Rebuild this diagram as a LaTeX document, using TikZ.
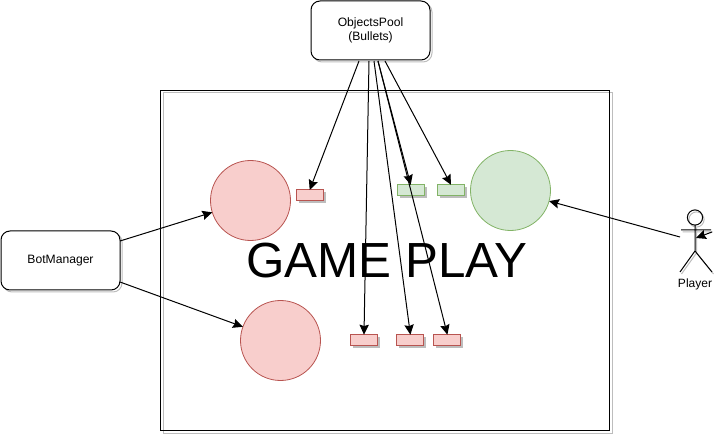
\documentclass[tikz,border=0pt]{standalone}
\usepackage{fontspec}
\setmainfont{Liberation Sans}
\usetikzlibrary{arrows.meta,positioning}
\definecolor{redfill}{HTML}{F8CECC}
\definecolor{redline}{HTML}{B85450}
\definecolor{greenfill}{HTML}{D5E8D4}
\definecolor{greenline}{HTML}{82B366}
\definecolor{shadowgray}{HTML}{BDBDBD}
\tikzset{
  x=0.75pt,y=-0.75pt,
  px/.style={inner sep=0pt,outer sep=0pt},
  box/.style={px,draw=black,line width=0.75pt,rounded corners=6.75pt,fill=white,align=center,
    font=\fontsize{9.1}{10.5}\selectfont,minimum width=89.25pt,minimum height=44.25pt},
  boxshadow/.style={px,draw=shadowgray,line width=0.75pt,rounded corners=6.75pt,minimum width=89.25pt,minimum height=44.25pt},
  bullet/.style={px,line width=0.75pt,minimum width=20.25pt,minimum height=8.25pt},
  redbullet/.style={bullet,draw=redline,fill=redfill},
  greenbullet/.style={bullet,draw=greenline,fill=greenfill},
  bulletshadow/.style={bullet,fill=shadowgray},
  blob/.style={px,circle,line width=0.6pt,minimum size=60pt},
  conn/.style={draw=black,line width=0.75pt,-{Stealth[length=7.5pt,width=7pt,inset=1pt]}},
  actorline/.style={draw=black,line width=0.75pt},
  actorshadow/.style={draw=shadowgray,line width=0.75pt},
}
\begin{document}
\begin{tikzpicture}
\useasboundingbox (0,0) rectangle (719,435);
% frame
\node[px,draw=shadowgray,line width=0.75pt,minimum width=336.75pt,minimum height=255pt] (frameshadow) at (387.5,263) {};
\node[px,draw=black,line width=0.75pt,minimum width=336.75pt,minimum height=255pt] (frame) at (385.2,260.5) {};
% title
\node[px,font=\fontsize{37}{41}\selectfont] (title) at (387,261) {GAME PLAY};
% circles
\node[blob,draw=redline,fill=redfill] (bota) at (250.5,200.5) {};
\node[blob,draw=redline,fill=redfill] (botb) at (280.5,340.5) {};
\node[blob,draw=greenline,fill=greenfill] (hero) at (510.5,190.5) {};
% bullets
\node[bulletshadow] at (312,198) {};
\node[redbullet] (b1) at (309.7,195.5) {};
\node[bulletshadow] at (413,192.7) {};
\node[greenbullet] (g1) at (410.7,190.3) {};
\node[bulletshadow] at (453.3,192.7) {};
\node[greenbullet] (g2) at (451,190.3) {};
\node[bulletshadow] at (366.3,342.7) {};
\node[redbullet] (b2) at (364,340.2) {};
\node[bulletshadow] at (412.7,342.7) {};
\node[redbullet] (b3) at (410.4,340.2) {};
\node[bulletshadow] at (449.7,342.7) {};
\node[redbullet] (b4) at (447.4,340.2) {};
% boxes
\node[boxshadow] (poolshadow) at (372.5,32.5) {};
\node[box] (pool) at (370.5,30.5) {ObjectsPool\\(Bullets)};
\node[boxshadow] (botshadow) at (62.5,262.5) {};
\node[box] (botmgr) at (60.5,260.5) {BotManager};
% actor shadow
\begin{scope}[shift={(1.5,2)}]
\draw[actorshadow] (695,217.5) circle (5.7pt);
\draw[actorshadow] (695,226) -- (695,251) (681,230) -- (711,230) (680,272) -- (695,251) -- (712,272);
\end{scope}
% actor
\coordinate (head) at (695,217.5);
\draw[actorline] (head) circle (5.7pt);
\draw[actorline] (695,225) -- (695,251) (681,230) -- (711,230) (680,272) -- (695,251) -- (712,272);
\coordinate (hand) at (680,237);
\coordinate (selfa) at (712,232);
\coordinate (selfb) at (696,238);
\node[px,font=\fontsize{9}{10.5}\selectfont] (player) at (695,284) {Player};
% connectors
\coordinate (pa) at (359,61);
\coordinate (pb) at (369,61);
\coordinate (pc) at (374,61);
\coordinate (pd) at (378,61);
\coordinate (pe) at (385,61);
\coordinate (ba) at (120,241);
\coordinate (bb) at (120,282);
\draw[conn] (pa) -- (b1.north);
\draw[conn] (pb) -- (b2.north);
\draw[conn] (pc) -- (b3.north);
\draw[conn] (pd) -- (b4.north);
\draw[conn] (pd) -- (g1.north);
\draw[conn] (pe) -- (g2.north);
\draw[conn] (ba) -- (bota);
\draw[conn] (bb) -- (botb);
\draw[conn] (hand) -- (hero);
\draw[conn] (selfa) -- (selfb);
\end{tikzpicture}
\end{document}
